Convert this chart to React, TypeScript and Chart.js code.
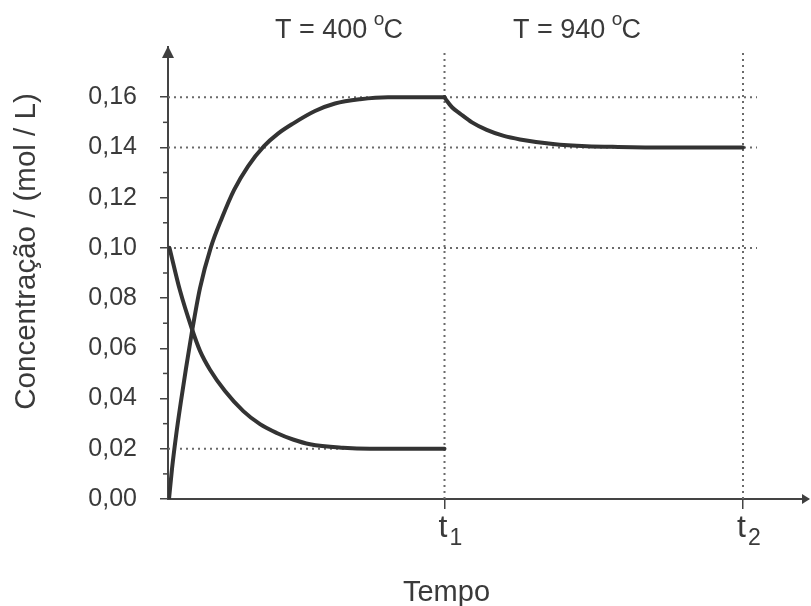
import { useEffect, useRef } from 'react';
import { Chart, registerables } from 'chart.js';

Chart.register(...registerables);

// ---- data (time in arbitrary units, concentration in mol/L) ----
const X_MAX = 64;
const Y_MAX = 0.18;
const T1 = 27.65;
const T2 = 57.5;

const riseTime = [0.1, 0.4, 0.8, 1.3, 1.8, 2.37, 3.2, 4.27, 5.4, 6.6, 8.0, 9.6, 11, 12.5, 14.7, 16.7, 19.2, 22, 27.65];
const riseConc = [0, 0.012, 0.025, 0.039, 0.052, 0.066, 0.084, 0.1, 0.112, 0.123, 0.1325, 0.1405, 0.1455, 0.1495, 0.1545, 0.1575, 0.1592, 0.16, 0.16];

const fallTime = [0.15, 1.2, 2.37, 3.2, 4.2, 5.7, 7.53, 9.2, 10.87, 12.5, 14.2, 17.5, 20.2, 27.65];
const fallConc = [0.1, 0.083, 0.068, 0.059, 0.0515, 0.043, 0.035, 0.0298, 0.0263, 0.0237, 0.0218, 0.0204, 0.02, 0.02];

const heatTime = [27.65, 27.9, 28.4, 29.2, 30.4, 31.87, 33.5, 35.2, 38.5, 41.87, 45, 50, 57.5];
const heatConc = [0.16, 0.1585, 0.156, 0.1535, 0.15, 0.147, 0.1447, 0.1432, 0.1414, 0.1405, 0.1402, 0.14, 0.14];

const guideLevels = [0.16, 0.14, 0.1, 0.02];
const guideEnds = [58.9, 58.9, 58.9, 27.65];

const markerTimes = [T1, T2];
const markerTops = [0.178, 0.179];
const markerSubs = ['1', '2'];

const yMajorTicks = [0, 0.02, 0.04, 0.06, 0.08, 0.1, 0.12, 0.14, 0.16];
const yMinorTicks = [0.01, 0.03, 0.05, 0.07, 0.09, 0.11, 0.13, 0.15];

const tempValues = ['400', '940'];
const tempLabelStart = [10.7, 34.5];

const yTitle = 'Concentração / (mol / L)';
const xTitle = 'Tempo';

const FONT = 'Liberation Sans, Arial, sans-serif';
const INK = '#3a3a3a';
const CURVE = '#333333';
const DOTS = '#6a6a6a';

const toPts = (xs: number[], ys: number[]) => xs.map((x, i) => ({ x, y: ys[i] }));

const decorPlugin = {
  id: 'decor',
  afterDraw(chart: any) {
    const { ctx, chartArea, scales } = chart;
    const xs = scales.x;
    const ys = scales.y;
    const left = chartArea.left;
    const bottom = chartArea.bottom;
    ctx.save();
    ctx.fillStyle = '#3f3f3f';
    // y arrow
    const tipY = ys.getPixelForValue(Y_MAX) - 1;
    ctx.beginPath();
    ctx.moveTo(left, tipY);
    ctx.lineTo(left - 6, tipY + 12);
    ctx.lineTo(left + 6, tipY + 12);
    ctx.closePath();
    ctx.fill();
    // x arrow
    const tipX = xs.getPixelForValue(X_MAX) + 2;
    ctx.beginPath();
    ctx.moveTo(tipX, bottom);
    ctx.lineTo(tipX - 8, bottom - 5);
    ctx.lineTo(tipX - 8, bottom + 5);
    ctx.closePath();
    ctx.fill();
    // minor ticks
    ctx.strokeStyle = '#444';
    ctx.lineWidth = 1.5;
    yMinorTicks.forEach((v) => {
      const py = ys.getPixelForValue(v);
      ctx.beginPath();
      ctx.moveTo(left - 5, py);
      ctx.lineTo(left, py);
      ctx.stroke();
    });
    // t1, t2 labels
    ctx.fillStyle = INK;
    ctx.textBaseline = 'alphabetic';
    markerTimes.forEach((t, i) => {
      const px = xs.getPixelForValue(t);
      ctx.font = `32px ${FONT}`;
      ctx.textAlign = 'left';
      ctx.fillText('t', px - 6, bottom + 38);
      ctx.font = `23px ${FONT}`;
      ctx.fillText(markerSubs[i], px + 5, bottom + 46);
    });
    // temperature labels
    tempValues.forEach((val, i) => {
      let px = xs.getPixelForValue(tempLabelStart[i]);
      const base = 38;
      ctx.textAlign = 'left';
      ctx.font = `27px ${FONT}`;
      const main = `T = ${val} `;
      ctx.fillText(main, px, base);
      px += ctx.measureText(main).width - 1;
      ctx.font = `19px ${FONT}`;
      ctx.fillText('o', px, base - 13);
      px += ctx.measureText('o').width - 1;
      ctx.font = `27px ${FONT}`;
      ctx.fillText('C', px, base);
    });
    // x title
    ctx.font = `29px ${FONT}`;
    ctx.textAlign = 'center';
    ctx.fillText(xTitle, xs.getPixelForValue(T1) + 2, 601);
    // y title
    ctx.translate(27, 251.5);
    ctx.rotate(-Math.PI / 2);
    ctx.font = `29.5px ${FONT}`;
    ctx.textAlign = 'center';
    ctx.textBaseline = 'middle';
    ctx.fillText(yTitle, 0, 0);
    ctx.restore();
  },
};

export default function App() {
  const ref = useRef<HTMLCanvasElement>(null);

  useEffect(() => {
    if (!ref.current) return;
    const curve = (data: { x: number; y: number }[]) => ({
      data,
      borderColor: CURVE,
      borderWidth: 4,
      pointRadius: 0,
      fill: false,
      cubicInterpolationMode: 'monotone' as const,
      borderCapStyle: 'round' as const,
      borderJoinStyle: 'round' as const,
    });
    const dotted = (data: { x: number; y: number }[]) => ({
      data,
      borderColor: DOTS,
      borderWidth: 2,
      borderDash: [2, 4],
      pointRadius: 0,
      fill: false,
      tension: 0,
    });
    const datasets: any[] = [
      curve(toPts(riseTime, riseConc)),
      curve(toPts(fallTime, fallConc)),
      curve(toPts(heatTime, heatConc)),
      ...guideLevels.map((lv, i) => dotted([{ x: 0, y: lv }, { x: guideEnds[i], y: lv }])),
      ...markerTimes.map((t, i) => dotted([{ x: t, y: 0 }, { x: t, y: markerTops[i] }])),
    ];
    const chart = new Chart(ref.current, {
      type: 'line',
      data: { datasets },
      options: {
        responsive: false,
        animation: false,
        events: [],
        layout: { padding: { left: 0, right: 3, top: 47, bottom: 0 } },
        plugins: { legend: { display: false }, tooltip: { enabled: false } },
        scales: {
          x: {
            type: 'linear',
            min: 0,
            max: X_MAX,
            afterBuildTicks: (s: any) => {
              s.ticks = markerTimes.map((v) => ({ value: v }));
            },
            afterFit: (s: any) => {
              s.height = 107;
            },
            ticks: { display: false },
            grid: { drawOnChartArea: false, drawTicks: true, tickLength: 10, color: '#444', lineWidth: 1.5 },
            border: { display: true, color: '#444', width: 2 },
          },
          y: {
            type: 'linear',
            min: 0,
            max: Y_MAX,
            afterBuildTicks: (s: any) => {
              s.ticks = yMajorTicks.map((v) => ({ value: v }));
            },
            afterFit: (s: any) => {
              s.width = 168;
            },
            ticks: {
              padding: 23,
              color: INK,
              font: { family: FONT, size: 25 },
              callback: (v: any) => Number(v).toFixed(2).replace('.', ','),
            },
            grid: { drawOnChartArea: false, drawTicks: true, tickLength: 8, color: '#444', lineWidth: 1.5 },
            border: { display: true, color: '#444', width: 2 },
          },
        },
      },
      plugins: [decorPlugin],
    });
    return () => chart.destroy();
  }, []);

  return (
    <div style={{ position: 'absolute', left: 0, top: 0, width: 811, height: 606, background: '#fff' }}>
      <canvas ref={ref} width={811} height={606} style={{ display: 'block' }} />
    </div>
  );
}
